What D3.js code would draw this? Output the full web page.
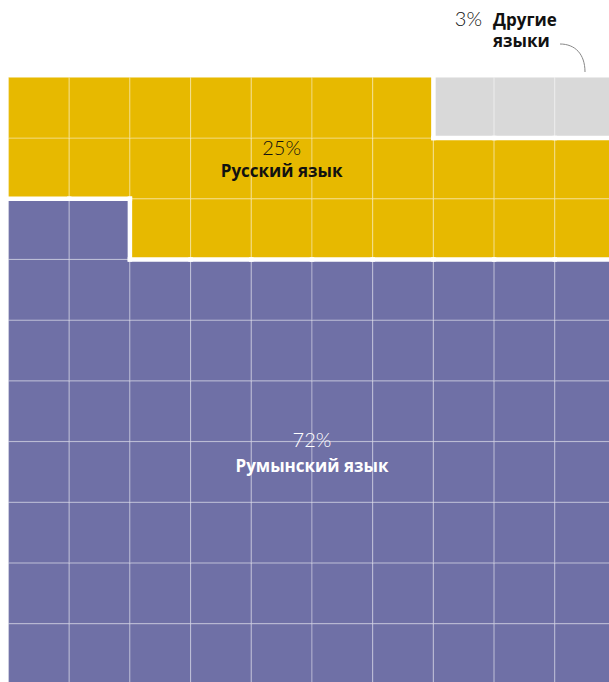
<!DOCTYPE html>
<html lang="ru">
<head>
    <meta charset="UTF-8">
    <title>Языки</title>
    <style>
        body {
            margin: 0;
            padding: 0;
            background: #fff;
        }
        svg {
            display: block;
        }
        .pct {
            font-family: Lato, sans-serif;
            font-weight: 300;
            font-size: 20px;
        }
        .name {
            font-family: "Open Sans", sans-serif;
            font-weight: 700;
            font-size: 17px;
        }
    </style>
</head>
<body>
    <script src="https://d3js.org/d3.v7.min.js"></script>
    <script>
        const width = 609;
        const height = 682;

        // data: share of cells out of 100, filled from the bottom row, left to right
        const categories = ['Румынский язык', 'Русский язык', 'Другие языки'];
        const values = [72, 25, 3];
        const colors = ['#6f70a6', '#e7b900', '#d9d9d9'];
        const textColors = ['#ffffff', '#111111', '#111111'];

        const cols = 10;
        const rows = 10;
        const cell = 60.7;

        const x = d3.scaleLinear().domain([0, cols]).range([8.5, 8.5 + cols * cell]);
        const y = d3.scaleLinear().domain([0, rows]).range([77.3, 77.3 + rows * cell]);

        // build cells
        const cells = [];
        let k = 0;
        values.forEach((v, gi) => {
            for (let i = 0; i < v; i++, k++) {
                const r = rows - 1 - Math.floor(k / cols);
                const c = k % cols;
                cells.push({ row: r, col: c, group: gi });
            }
        });
        const grid = {};
        cells.forEach(d => grid[d.row + '_' + d.col] = d.group);

        const svg = d3.select('body').append('svg')
            .attr('width', width)
            .attr('height', height);

        svg.append('g')
            .selectAll('rect')
            .data(cells)
            .enter().append('rect')
            .attr('x', d => x(d.col))
            .attr('y', d => y(d.row))
            .attr('width', x(1) - x(0))
            .attr('height', y(1) - y(0))
            .attr('fill', d => colors[d.group])
            .attr('stroke', 'rgba(255,255,255,0.3)')
            .attr('stroke-width', 1.2);

        // white borders between groups
        const segs = [];
        for (let r = 0; r < rows; r++) {
            for (let c = 0; c < cols; c++) {
                const g = grid[r + '_' + c];
                if (c + 1 < cols && grid[r + '_' + (c + 1)] !== g) {
                    segs.push([x(c + 1), y(r), x(c + 1), y(r + 1)]);
                }
                if (r + 1 < rows && grid[(r + 1) + '_' + c] !== g) {
                    segs.push([x(c), y(r + 1), x(c + 1), y(r + 1)]);
                }
            }
        }
        svg.append('g')
            .selectAll('line')
            .data(segs)
            .enter().append('line')
            .attr('x1', d => d[0])
            .attr('y1', d => d[1])
            .attr('x2', d => d[2])
            .attr('y2', d => d[3])
            .attr('stroke', '#fff')
            .attr('stroke-width', 4.5)
            .attr('stroke-linecap', 'square');

        // labels inside the grid
        const inner = [
            { gi: 0, cx: x(5), py: y(6) + 5, ny: y(6) + 30 },
            { gi: 1, cx: x(4.5), py: y(1.15) + 8, ny: y(1.15) + 30 }
        ];
        inner.forEach(d => {
            const g = svg.append('g').attr('fill', textColors[d.gi]).attr('text-anchor', 'middle');
            g.append('text').attr('class', 'pct')
                .attr('x', d.cx).attr('y', d.py)
                .text(values[d.gi] + '%');
            g.append('text').attr('class', 'name')
                .attr('x', d.cx).attr('y', d.ny)
                .text(categories[d.gi]);
        });

        // label for the small group, outside
        const other = svg.append('g').attr('fill', textColors[2]);
        other.append('text').attr('class', 'pct')
            .attr('x', 482).attr('y', 26)
            .attr('text-anchor', 'end')
            .text(values[2] + '%');
        const words = categories[2].split(' ');
        other.append('text').attr('class', 'name')
            .attr('x', 493).attr('y', 26)
            .text(words[0]);
        other.append('text').attr('class', 'name')
            .attr('x', 493).attr('y', 47)
            .text(words[1]);

        svg.append('path')
            .attr('d', 'M560,44 C575,44 585,54 585,72')
            .attr('fill', 'none')
            .attr('stroke', '#888')
            .attr('stroke-width', 1);
    </script>
</body>
</html>
